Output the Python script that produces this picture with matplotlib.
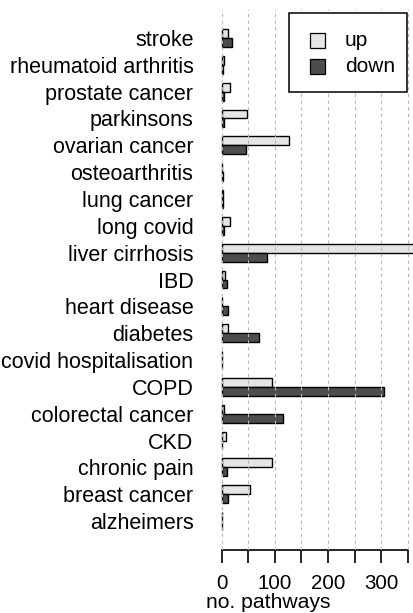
import matplotlib
matplotlib.use("Agg")
import matplotlib.pyplot as plt
from matplotlib.patches import Rectangle
import numpy as np

plt.rcParams['font.family'] = ['Liberation Sans', 'DejaVu Sans']

# categories from bottom to top
categories = ["alzheimers", "breast cancer", "chronic pain", "CKD", "colorectal cancer",
              "COPD", "covid hospitalisation", "diabetes", "heart disease", "IBD",
              "liver cirrhosis", "long covid", "lung cancer", "osteoarthritis",
              "ovarian cancer", "parkinsons", "prostate cancer", "rheumatoid arthritis", "stroke"]
up_vals = [1, 54, 94, 8, 4, 94, 1, 11, 1, 7, 400, 16, 2, 1, 127, 48, 16, 4, 11]
down_vals = [1, 12, 9, 1, 116, 306, 1, 70, 11, 9, 86, 4, 3, 2, 45, 5, 5, 3, 20]
series_names = ["up", "down"]
series_colors = ["#e5e5e5", "#4d4d4d"]
x_ticks = [0, 50, 100, 150, 200, 250, 300, 350]
x_ticklabels = ["0", "", "100", "", "200", "", "300", ""]
x_label = "no. pathways"

W, H = 414, 613
fig = plt.figure(figsize=(W / 100, H / 100), dpi=100)

def fx(x):
    return x / W

def fy(y):
    return 1 - y / H

# axes placement in pixels
ax_left, ax_right = 214.3, 415.1
ax_top, ax_bottom = 9.0, 550.0
ax = fig.add_axes([fx(ax_left), fy(ax_bottom), fx(ax_right - ax_left), (ax_bottom - ax_top) / H])

n = len(categories)
idx = np.arange(n)
down_y = 3 * idx + 1.5
up_y = 3 * idx + 2.5

ax.barh(up_y, up_vals, height=1.0, color=series_colors[0], edgecolor="black", linewidth=1.0, zorder=2)
ax.barh(down_y, down_vals, height=1.0, color=series_colors[1], edgecolor="black", linewidth=1.0, zorder=2)

ax.set_xlim(-14, 364)
ax.set_ylim(-1.24, 59.24)

# dashed grid over bars
for xv in x_ticks:
    ax.axvline(xv, color="#b8b8b8", linewidth=0.8, linestyle=(0, (3, 3)), zorder=3)

for s in ["top", "right", "left"]:
    ax.spines[s].set_visible(False)
ax.spines["bottom"].set_bounds(0, 350)
ax.spines["bottom"].set_linewidth(1.2)

ax.set_xticks(x_ticks)
ax.set_xticklabels(x_ticklabels)
ax.tick_params(axis="x", length=9.4, width=1.2, pad=8, labelsize=14.8, colors="black")

ax.set_yticks(3 * idx + 2)
ax.set_yticklabels(categories)
ax.tick_params(axis="y", length=0, pad=15, labelsize=15.5)

fig.text(fx(268), fy(602), x_label, ha="center", va="center", fontsize=15.2)

# legend box
lx0, lx1, ly0, ly1 = 289, 406.7, 13, 91.7
fig.patches.append(Rectangle((fx(lx0), fy(ly1)), fx(lx1 - lx0), (ly1 - ly0) / H,
                             transform=fig.transFigure, facecolor="white", edgecolor="black",
                             linewidth=1.1, zorder=5))
for name, col, yc in zip(series_names, series_colors, [40.7, 66.7]):
    fig.patches.append(Rectangle((fx(310), fy(yc + 7.5)), fx(15), 15 / H,
                                 transform=fig.transFigure, facecolor=col, edgecolor="black",
                                 linewidth=0.9, zorder=6))
    fig.text(fx(345), fy(yc), name, ha="left", va="center", fontsize=15, zorder=7)

fig.savefig("out.png", dpi=100)
